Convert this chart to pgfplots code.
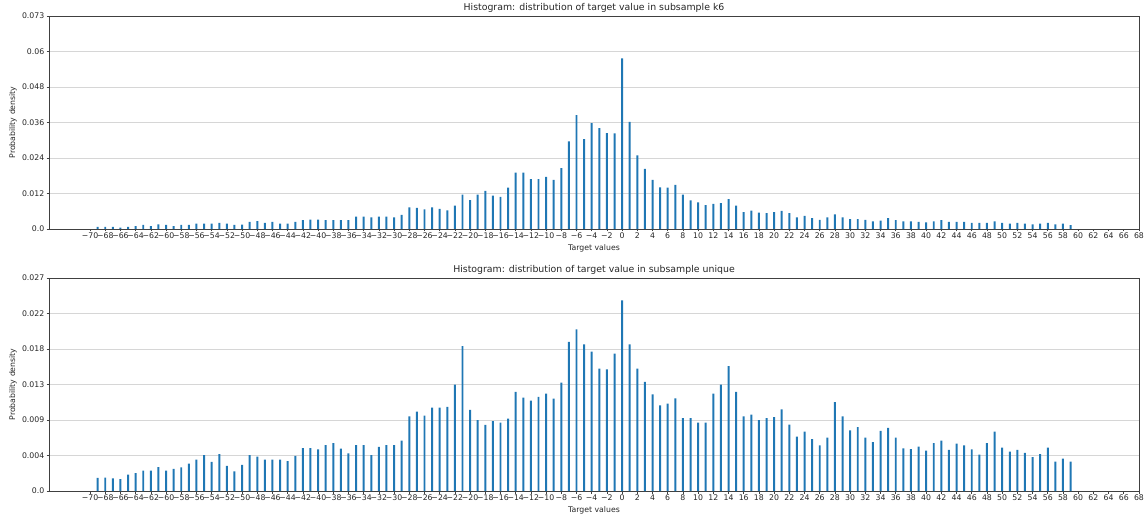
\documentclass[border=0pt]{standalone}
\usepackage{fontspec}
\setmainfont{DejaVu Sans}
\usepackage{pgfplots}
\usepackage{pgfplotstable}
\pgfplotsset{compat=1.18}
\definecolor{mplblue}{HTML}{1F77B4}
\definecolor{gridgray}{HTML}{D6D6D6}
\definecolor{spine}{HTML}{404040}

\pgfplotstableread{
x y
-69 0.0007
-68 0.0007
-67 0.0007
-66 0.0005
-65 0.0007
-64 0.0010
-63 0.0014
-62 0.0010
-61 0.0016
-60 0.0014
-59 0.0010
-58 0.0014
-57 0.0014
-56 0.0018
-55 0.0018
-54 0.0018
-53 0.0021
-52 0.0018
-51 0.0014
-50 0.0015
-49 0.0024
-48 0.0027
-47 0.0021
-46 0.0024
-45 0.0018
-44 0.0018
-43 0.0024
-42 0.0030
-41 0.0032
-40 0.0032
-39 0.0030
-38 0.0030
-37 0.0030
-36 0.0030
-35 0.0042
-34 0.0042
-33 0.0040
-32 0.0042
-31 0.0042
-30 0.0040
-29 0.0048
-28 0.0074
-27 0.0072
-26 0.0067
-25 0.0074
-24 0.0069
-23 0.0064
-22 0.0080
-21 0.0118
-20 0.0099
-19 0.0118
-18 0.0131
-17 0.0114
-16 0.0110
-15 0.0142
-14 0.0193
-13 0.0193
-12 0.0171
-11 0.0171
-10 0.0179
-9 0.0168
-8 0.0209
-7 0.0300
-6 0.0390
-5 0.0308
-4 0.0363
-3 0.0346
-2 0.0329
-1 0.0328
0 0.0585
1 0.0367
2 0.0252
3 0.0206
4 0.0168
5 0.0143
6 0.0142
7 0.0151
8 0.0118
9 0.0098
10 0.0091
11 0.0082
12 0.0086
13 0.0089
14 0.0102
15 0.0080
16 0.0058
17 0.0063
18 0.0056
19 0.0054
20 0.0058
21 0.0062
22 0.0054
23 0.0040
24 0.0045
25 0.0037
26 0.0031
27 0.0040
28 0.0050
29 0.0040
30 0.0034
31 0.0034
32 0.0031
33 0.0026
34 0.0029
35 0.0037
36 0.0030
37 0.0026
38 0.0026
39 0.0024
40 0.0023
41 0.0026
42 0.0030
43 0.0024
44 0.0024
45 0.0024
46 0.0021
47 0.0021
48 0.0021
49 0.0026
50 0.0021
51 0.0018
52 0.0021
53 0.0018
54 0.0016
55 0.0018
56 0.0021
57 0.0016
58 0.0018
59 0.0013
}\dataksix

\pgfplotstableread{
x y
-69 0.00165
-68 0.00169
-67 0.00160
-66 0.00152
-65 0.00207
-64 0.00228
-63 0.00258
-62 0.00258
-61 0.00304
-60 0.00258
-59 0.00279
-58 0.00300
-57 0.00346
-56 0.00397
-55 0.00456
-54 0.00368
-53 0.00469
-52 0.00317
-51 0.00249
-50 0.00330
-49 0.00456
-48 0.00435
-47 0.00397
-46 0.00397
-45 0.00397
-44 0.00380
-43 0.00444
-42 0.00545
-41 0.00545
-40 0.00528
-39 0.00583
-38 0.00608
-37 0.00537
-36 0.00477
-35 0.00583
-34 0.00583
-33 0.00456
-32 0.00558
-31 0.00583
-30 0.00583
-29 0.00638
-28 0.00946
-27 0.01006
-26 0.00955
-25 0.01056
-24 0.01056
-23 0.01065
-22 0.01348
-21 0.01838
-20 0.01027
-19 0.00900
-18 0.00837
-17 0.00887
-16 0.00866
-15 0.00917
-14 0.01255
-13 0.01183
-12 0.01145
-11 0.01192
-10 0.01234
-9 0.01170
-8 0.01373
-7 0.01889
-6 0.02049
-5 0.01859
-4 0.01766
-3 0.01551
-2 0.01542
-1 0.01741
0 0.02417
1 0.01859
2 0.01551
3 0.01382
4 0.01225
5 0.01086
6 0.01107
7 0.01175
8 0.00925
9 0.00925
10 0.00866
11 0.00866
12 0.01234
13 0.01348
14 0.01584
15 0.01255
16 0.00946
17 0.00968
18 0.00900
19 0.00925
20 0.00938
21 0.01035
22 0.00841
23 0.00689
24 0.00752
25 0.00659
26 0.00579
27 0.00676
28 0.01128
29 0.00946
30 0.00769
31 0.00811
32 0.00676
33 0.00621
34 0.00761
35 0.00799
36 0.00676
37 0.00541
38 0.00532
39 0.00562
40 0.00511
41 0.00608
42 0.00638
43 0.00520
44 0.00600
45 0.00579
46 0.00528
47 0.00461
48 0.00608
49 0.00752
50 0.00549
51 0.00499
52 0.00520
53 0.00482
54 0.00431
55 0.00469
56 0.00549
57 0.00372
58 0.00410
59 0.00372
}\dataunique

\pgfplotsset{
  histstyle/.style={
    scale only axis,
    width=1090bp, height=213bp,
    xmin=-75.4, xmax=68,
    ymin=0,
    scaled y ticks=false,
    clip=false,
    axis line style={spine, line width=0.6bp},
    tick style={spine, line width=0.6bp},
    tick align=outside,
    major tick length=2.5bp,
    xtick pos=lower, ytick pos=left,
    ymajorgrids, major grid style={gridgray, line width=0.6bp},
    xtick={-70,-68,...,68},
    xticklabels={−70,−68,−66,−64,−62,−60,−58,−56,−54,−52,−50,−48,−46,−44,−42,−40,−38,−36,−34,−32,−30,−28,−26,−24,−22,−20,−18,−16,−14,−12,−10,−8,−6,−4,−2,0,2,4,6,8,10,12,14,16,18,20,22,24,26,28,30,32,34,36,38,40,42,44,46,48,50,52,54,56,58,60,62,64,66,68},
    tick label style={font=\fontsize{7.8}{9}\selectfont, text=black!85},
    xticklabel style={inner sep=1.5bp},
    yticklabel style={inner sep=2bp},
    label style={font=\fontsize{7.8}{9}\selectfont, text=black!85},
    xlabel={Target values},
    ylabel={Probability density},
    xlabel style={at={(axis description cs:0.5,-0.089)}, anchor=center},
    ylabel style={at={(axis description cs:-0.033,0.5)}, anchor=center},
    anchor=north west,
  },
  histbar/.style={ybar, bar width=0.26, fill=mplblue, draw=none},
}
\tikzset{histtitle/.style={font=\fontsize{9.4}{11}\selectfont, text=black!85, anchor=center, inner sep=0pt}}

\begin{document}
\begin{tikzpicture}
\path[use as bounding box] (-49bp,16bp) rectangle (1099bp,-502bp);
\begin{axis}[histstyle, at={(0,0)},
  ymax=0.073,
  ytick={0,0.0121667,0.0243333,0.0365,0.0486667,0.0608333,0.073},
  yticklabels={0.0,0.012,0.024,0.036,0.048,0.06,0.073}]
\addplot[histbar] table[x=x,y=y]{\dataksix};
\node[histtitle] at (axis description cs:0.5,1.038) {Histogram: distribution of target value in subsample k6};
\end{axis}
\begin{axis}[histstyle, at={(0,-262bp)},
  ymax=0.027,
  ytick={0,0.0045,0.009,0.0135,0.018,0.0225,0.027},
  yticklabels={0.0,0.004,0.009,0.013,0.018,0.022,0.027}]
\addplot[histbar] table[x=x,y=y]{\dataunique};
\node[histtitle] at (axis description cs:0.5,1.038) {Histogram: distribution of target value in subsample unique};
\end{axis}
\end{tikzpicture}
\end{document}
